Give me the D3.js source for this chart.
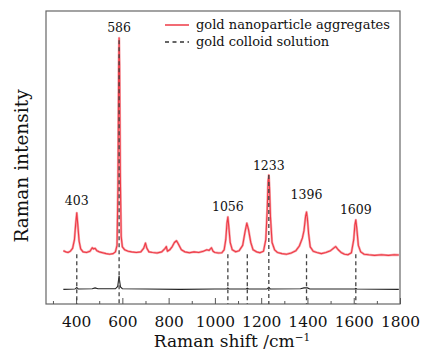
<!DOCTYPE html>
<html>
<head>
<meta charset="utf-8">
<script src="https://cdn.jsdelivr.net/npm/d3@7"></script>
<style>
  body { margin: 0; background: #fff; }
</style>
</head>
<body>
<script>
// red spectrum: gold nanoparticle aggregates [shift, intensity]
const aggregates = [
  [345, 182], [355, 178], [365, 176], [375, 180], [385, 190], [393, 220], [398, 270],
  [403, 311], [408, 265], [413, 215], [420, 188], [430, 178], [445, 176], [460, 180],
  [470, 192], [475, 188], [482, 190], [490, 182], [500, 178], [515, 175], [530, 172],
  [545, 170], [560, 172], [570, 178], [577, 200], [581, 400], [584, 800], [586, 908],
  [588, 820], [591, 450], [595, 230], [600, 195], [610, 185], [625, 180], [640, 178],
  [660, 176], [680, 178], [692, 190], [700, 208], [706, 190], [715, 178], [730, 176],
  [750, 174], [770, 178], [785, 190], [790, 196], [795, 180], [805, 185], [815, 195],
  [825, 210], [834, 216], [842, 205], [855, 185], [870, 178], [890, 175], [910, 178],
  [930, 176], [950, 180], [965, 185], [975, 183], [985, 192], [992, 180], [1000, 176],
  [1015, 174], [1030, 175], [1040, 185], [1047, 220], [1052, 275], [1056, 297],
  [1060, 265], [1066, 210], [1075, 185], [1090, 178], [1105, 182], [1120, 200],
  [1130, 245], [1138, 276], [1145, 255], [1155, 210], [1165, 185], [1180, 178],
  [1195, 175], [1210, 180], [1220, 220], [1226, 320], [1230, 420], [1233, 440],
  [1236, 400], [1240, 300], [1247, 210], [1258, 185], [1270, 176], [1290, 172],
  [1310, 170], [1330, 174], [1350, 182], [1365, 198], [1378, 225], [1385, 250],
  [1392, 300], [1396, 314], [1400, 290], [1405, 240], [1412, 195], [1425, 180],
  [1440, 176], [1460, 172], [1480, 176], [1500, 182], [1512, 190], [1522, 196],
  [1532, 186], [1545, 176], [1560, 170], [1575, 168], [1590, 175], [1600, 220],
  [1605, 270], [1609, 287], [1613, 260], [1620, 200], [1630, 178], [1645, 170],
  [1665, 168], [1690, 166], [1720, 168], [1750, 166], [1775, 168], [1795, 167]
];

// black spectrum: gold colloid solution
const colloid = [
  [345, 50], [395, 51], [403, 56], [410, 51], [470, 52], [482, 55], [495, 52],
  [570, 52], [580, 60], [584, 85], [586, 96], [588, 80], [592, 58], [600, 52],
  [700, 51], [850, 50], [1000, 51], [1050, 51], [1056, 55], [1062, 51], [1135, 51],
  [1140, 54], [1146, 51], [1225, 51], [1233, 57], [1240, 51], [1370, 52], [1385, 55],
  [1400, 55], [1410, 51], [1605, 51], [1609, 53], [1614, 51], [1795, 50]
];

// peak markers: position, dashed line top (intensity), label, label height
const peakPos = [403, 586, 1056, 1140, 1233, 1396, 1609];
const peakDashTop = [170, 900, 170, 170, 440, 170, 170];
const labelPeaks = [403, 586, 1056, 1233, 1396, 1609];
const labelLevels = [338, 927, 317, 456, 360, 307];

const xTicks = [400, 600, 800, 1000, 1200, 1400, 1600, 1800];
const xMinorTicks = [300, 500, 700, 900, 1100, 1300, 1500, 1700];
const legendNames = ['gold nanoparticle aggregates', 'gold colloid solution'];

const width = 422;
const height = 352;
const marginTop = 11;
const marginRight = 22;
const marginBottom = 48;
const marginLeft = 46;
const serif = "'DejaVu Serif', serif";

const svg = d3.select('body')
  .append('svg')
  .attr('width', width)
  .attr('height', height);

const x = d3.scaleLinear()
  .domain([270, 1800])
  .range([marginLeft, width - marginRight]);

const y = d3.scaleLinear()
  .domain([0, 1000])
  .range([height - marginBottom, marginTop]);

const line = d3.line()
  .x((d) => x(d[0]))
  .y((d) => y(d[1]));

// frame
svg.append('rect')
  .attr('x', marginLeft)
  .attr('y', marginTop)
  .attr('width', width - marginLeft - marginRight)
  .attr('height', height - marginTop - marginBottom)
  .attr('fill', 'none')
  .attr('stroke', '#666')
  .attr('stroke-width', 1.2);

// x axis, inner ticks
const xAxis = svg.append('g')
  .attr('transform', `translate(0,${height - marginBottom})`)
  .call(d3.axisBottom(x).tickValues(xTicks).tickFormat(d3.format('d'))
    .tickSize(-6).tickPadding(12).tickSizeOuter(0));
xAxis.select('.domain').remove();
xAxis.selectAll('.tick line').attr('stroke', '#555');
xAxis.selectAll('.tick text')
  .style('font-family', serif)
  .style('font-size', '15.4px')
  .attr('fill', '#111');

svg.append('g')
  .attr('transform', `translate(0,${height - marginBottom})`)
  .call(d3.axisBottom(x).tickValues(xMinorTicks).tickSize(-3).tickFormat(''))
  .call((g) => g.select('.domain').remove())
  .call((g) => g.selectAll('.tick line').attr('stroke', '#555'));

// spectra
svg.append('path')
  .attr('fill', 'none')
  .attr('stroke', '#222')
  .attr('stroke-width', 1.1)
  .attr('d', line(colloid));

svg.append('path')
  .attr('fill', 'none')
  .attr('stroke', '#f7a8ad')
  .attr('stroke-width', 2.4)
  .attr('stroke-linejoin', 'round')
  .attr('d', line(aggregates));
svg.append('path')
  .attr('fill', 'none')
  .attr('stroke', '#ee3a46')
  .attr('stroke-width', 1.1)
  .attr('stroke-linejoin', 'round')
  .attr('d', line(aggregates));

// dashed peak guides
svg.append('g')
  .selectAll('line')
  .data(peakPos)
  .join('line')
  .attr('x1', (d) => x(d))
  .attr('x2', (d) => x(d))
  .attr('y1', (d, i) => y(peakDashTop[i]))
  .attr('y2', y(0))
  .attr('stroke', '#444')
  .attr('stroke-width', 1.3)
  .attr('stroke-dasharray', '4,3');

// peak labels
svg.append('g')
  .selectAll('text')
  .data(labelPeaks)
  .join('text')
  .attr('x', (d) => x(d))
  .attr('y', (d, i) => y(labelLevels[i]))
  .attr('text-anchor', 'middle')
  .style('font-family', serif)
  .style('font-size', '12.5px')
  .attr('fill', '#111')
  .text((d) => d);

// legend
const legend = svg.append('g');
legend.append('line')
  .attr('x1', 165).attr('x2', 189)
  .attr('y1', 25).attr('y2', 25)
  .attr('stroke', '#ee3a46')
  .attr('stroke-width', 1.5);
legend.append('line')
  .attr('x1', 165).attr('x2', 189)
  .attr('y1', 42).attr('y2', 42)
  .attr('stroke', '#333')
  .attr('stroke-width', 1.3)
  .attr('stroke-dasharray', '4,3.5');
legend.selectAll('text')
  .data(legendNames)
  .join('text')
  .attr('x', 196)
  .attr('y', (d, i) => 29 + i * 17)
  .style('font-family', serif)
  .style('font-size', '13px')
  .attr('fill', '#111')
  .text((d) => d);

// axis titles
const xTitle = svg.append('text')
  .attr('x', 232)
  .attr('y', 347)
  .attr('text-anchor', 'middle')
  .style('font-family', serif)
  .style('font-size', '17px')
  .attr('fill', '#111');
xTitle.append('tspan').text('Raman shift /cm');
xTitle.append('tspan')
  .attr('dy', -6)
  .style('font-size', '10.5px')
  .text('\u22121');

svg.append('text')
  .attr('transform', 'translate(28,166) rotate(-90)')
  .attr('text-anchor', 'middle')
  .style('font-family', serif)
  .style('font-size', '18.5px')
  .attr('fill', '#111')
  .text('Raman intensity');
</script>
</body>
</html>
